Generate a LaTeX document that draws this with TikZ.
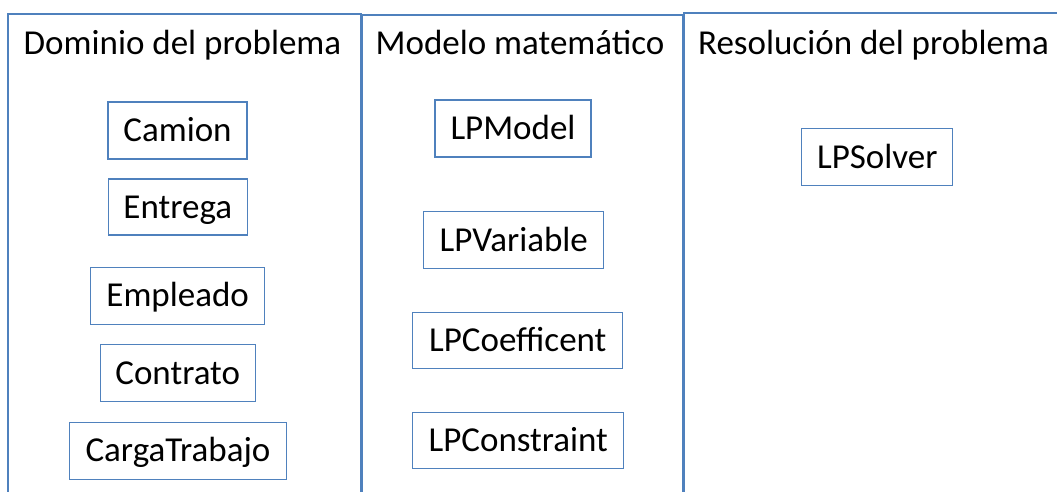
\documentclass[tikz,border=0pt]{standalone}
\usepackage{fontspec}
\setmainfont{Carlito}
\definecolor{lineblue}{RGB}{79,129,189}
\begin{document}
\begin{tikzpicture}[x=1pt,y=-1pt,
  panel/.style={draw=lineblue,line width=1.2pt},
  title/.style={anchor=base,inner sep=0pt,font=\fontsize{35}{40}\selectfont},
  cls/.style={draw=lineblue,line width=1.2pt,fill=white,inner sep=0pt,
    text height=22pt,text depth=0pt,font=\fontsize{35}{40}\selectfont}]
\useasboundingbox (0,0) rectangle (1057,491);
% panels
\draw[panel] (8,492) -- (8,14) -- (361,14) -- (361,492);
\draw[panel] (362,492) -- (362,15) -- (683,15) -- (683,492);
\draw[panel] (684,492) -- (684,13) -- (1058,13);
% titles
\node[title] (t1) at (182.5,54) {Dominio del problema};
\node[title] (t2) at (520,54) {Modelo matemático};
\node[title] (t3) at (873.5,54) {Resolución del problema};
% domain classes
\node[cls,minimum width=139pt,minimum height=57pt] (camion) at (177.5,130.5) {Camion};
\node[cls,minimum width=139pt,minimum height=56pt] (entrega) at (177.8,207) {Entrega};
\node[cls,minimum width=174pt,minimum height=57pt] (empleado) at (177.7,295.7) {Empleado};
\node[cls,minimum width=155pt,minimum height=57pt] (contrato) at (177.7,373.3) {Contrato};
\node[cls,minimum width=217pt,minimum height=57pt] (carga) at (178,450.7) {CargaTrabajo};
% model classes
\node[cls,minimum width=156pt,minimum height=57pt] (lpmodel) at (513,128.5) {LPModel};
\node[cls,minimum width=180pt,minimum height=57pt] (lpvariable) at (513.8,240.3) {LPVariable};
\node[cls,minimum width=210pt,minimum height=56pt] (lpcoef) at (517.8,340.2) {LPCoefficent};
\node[cls,minimum width=211pt,minimum height=56pt] (lpconstraint) at (518.3,440.2) {LPConstraint};
% solver
\node[cls,minimum width=151pt,minimum height=57pt] (lpsolver) at (877.3,157.3) {LPSolver};
\end{tikzpicture}
\end{document}
